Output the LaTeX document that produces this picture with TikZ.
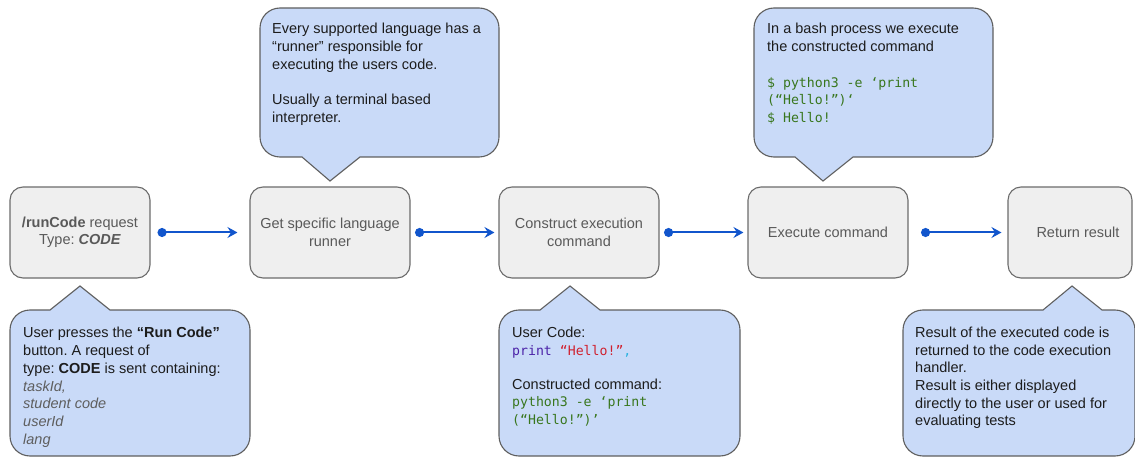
\documentclass[tikz,border=0pt]{standalone}
\usepackage{fontspec}
\setmainfont{Liberation Sans}
\setmonofont{DejaVu Sans Mono}
\usetikzlibrary{arrows.meta}
\definecolor{boxfill}{HTML}{EFEFEF}
\definecolor{boxline}{HTML}{6B6B6B}
\definecolor{boxtext}{HTML}{595959}
\definecolor{notefill}{HTML}{C9DAF8}
\definecolor{noteline}{HTML}{5F5F5F}
\definecolor{notetextc}{HTML}{1C1C1C}
\definecolor{flowblue}{HTML}{1155CC}
\definecolor{codegreen}{HTML}{38761D}
\definecolor{codepurple}{HTML}{4B22A8}
\definecolor{codered}{HTML}{D0202E}
\definecolor{codecyan}{HTML}{2BB3E0}
\definecolor{argsgray}{HTML}{5E5E5E}
\frenchspacing

\begin{document}
\begin{tikzpicture}[x=1pt,y=-1pt,
  stepbox/.style={draw=boxline, line width=1.1pt, fill=boxfill, rounded corners=13pt,
    minimum height=91pt, align=center, text=boxtext, inner sep=0pt,
    font=\fontsize{14.5}{17.5}\selectfont},
  note/.style={draw=noteline, line width=1.1pt, fill=notefill},
  notetext/.style={anchor=north west, align=left, inner sep=0pt, text=notetextc,
    font=\fontsize{14.5}{17.8}\selectfont},
  flow/.style={draw=flowblue, line width=2pt,
    {Circle[length=9pt]}-{Stealth[length=10pt,width=11pt,inset=3.5pt]}},
]
\useasboundingbox (0,0) rectangle (1135,457);
\clip (0,0) rectangle (1135,457);

% processing steps
\node[stepbox, minimum width=140pt] (req) at (80,232.5)
  {\textbf{/runCode} request\\Type: \textbf{\textit{CODE}}};
\node[stepbox, minimum width=160pt] (runner) at (330,232.5)
  {Get specific language\\runner};
\node[stepbox, minimum width=160pt] (build) at (579,232.5)
  {Construct execution\\command};
\node[stepbox, minimum width=160pt] (exec) at (828,232.5)
  {Execute command};
\node[stepbox, minimum width=124pt] (result) at (1070,232.5) {};
\node[text=boxtext, font=\fontsize{14.5}{17.5}\selectfont, inner sep=0pt]
  (resultlabel) at (1078,232.5) {Return result};

% flow between steps
\draw[flow] ([xshift=7pt]req.east) -- ([xshift=-12pt]runner.west);
\draw[flow] ([xshift=4.5pt]runner.east) -- ([xshift=-4pt]build.west);
\draw[flow] ([xshift=4.5pt]build.east) -- ([xshift=-4pt]exec.west);
\draw[flow] ([xshift=12.5pt]exec.east) -- ([xshift=-6pt]result.west);

% callouts below the steps
\draw[note] (80,286) -- (110,310) [rounded corners=20pt] -- (250,310) -- (250,456)
  -- (10,456) -- (10,310) [sharp corners] -- (50,310) -- cycle;
\draw[note] (570,286) -- (600,310) [rounded corners=20pt] -- (740,310) -- (740,456)
  -- (499,456) -- (499,310) [sharp corners] -- (540,310) -- cycle;
\draw[note] (1072,286) -- (1102,310) [rounded corners=20pt] -- (1135,310) -- (1135,456)
  -- (903,456) -- (903,310) [sharp corners] -- (1043,310) -- cycle;

% callouts above the steps
\draw[note] (330,181) -- (302,157) [rounded corners=20pt] -- (260,157) -- (260,8)
  -- (499,8) -- (499,157) [sharp corners] -- (360,157) -- cycle;
\draw[note] (823,181) -- (795,157) [rounded corners=20pt] -- (754,157) -- (754,8)
  -- (993,8) -- (993,157) [sharp corners] -- (853,157) -- cycle;

% callout texts
\node[notetext] (reqnote) at (23,327)
  {User presses the \textbf{“Run Code”}\\
   button. A request of\\
   type: \textbf{CODE} is sent containing:\\
   \textcolor{argsgray}{\textit{taskId,}}\\
   \textcolor{argsgray}{\textit{student code}}\\
   \textcolor{argsgray}{\textit{userId}}\\
   \textcolor{argsgray}{\textit{lang}}};

\node[notetext] (runnernote) at (272,23)
  {Every supported language has a\\
   “runner” responsible for\\
   executing the users code.\\[17.8pt]
   Usually a terminal based\\
   interpreter.};

\node[notetext, font=\fontsize{14.5}{17.3}\selectfont] (buildnote) at (512,327)
  {User Code:\\
   {\fontsize{13.2}{17.3}\ttfamily\textcolor{codepurple}{print} \textcolor{codered}{“Hello!”}\textcolor{codecyan}{,}}\\[17.3pt]
   Constructed command:\\
   {\fontsize{13.2}{17.3}\ttfamily\color{codegreen}python3 -e ‘print}\\
   {\fontsize{13.2}{17.3}\ttfamily\color{codegreen}(“Hello!”)’}};

\node[notetext] (execnote) at (767,23)
  {In a bash process we execute\\
   the constructed command\\[17.8pt]
   {\fontsize{13.2}{17.3}\ttfamily\color{codegreen}\$ python3 -e ‘print}\\
   {\fontsize{13.2}{17.3}\ttfamily\color{codegreen}(“Hello!”)‘}\\
   {\fontsize{13.2}{17.3}\ttfamily\color{codegreen}\$ Hello!}};

\node[notetext, font=\fontsize{14.5}{17.6}\selectfont] (resultnote) at (915,327)
  {Result of the executed code is\\
   returned to the code execution\\
   handler.\\
   Result is either displayed\\
   directly to the user or used for\\
   evaluating tests};
\end{tikzpicture}
\end{document}
